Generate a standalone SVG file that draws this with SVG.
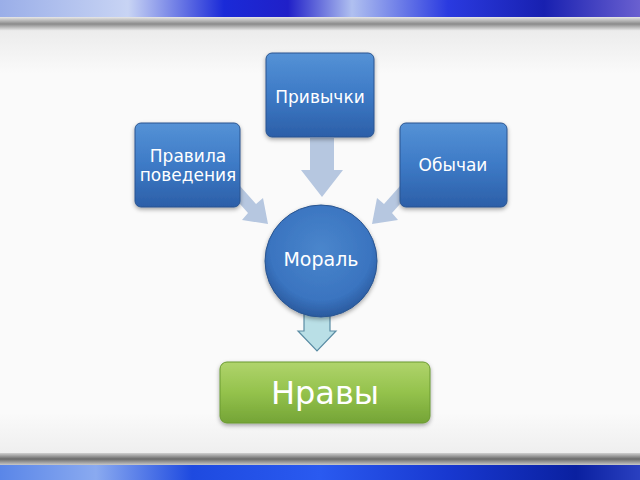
<svg xmlns="http://www.w3.org/2000/svg" width="640" height="480" viewBox="0 0 640 480">
<defs>
<linearGradient id="bgTop" x1="0" y1="0" x2="1" y2="0">
<stop offset="0" stop-color="#9aaee8"/><stop offset="0.2" stop-color="#c8d4f4"/><stop offset="0.35" stop-color="#1a2ad8"/><stop offset="0.45" stop-color="#2020c8"/><stop offset="0.55" stop-color="#b0c0f0"/><stop offset="0.7" stop-color="#2a3ae0"/><stop offset="0.85" stop-color="#1820b0"/><stop offset="1" stop-color="#6a60d0"/>
</linearGradient>
<linearGradient id="bgBot" x1="0" y1="0" x2="1" y2="0">
<stop offset="0" stop-color="#5a86e8"/><stop offset="0.15" stop-color="#8aaaf0"/><stop offset="0.3" stop-color="#1e4ae0"/><stop offset="0.5" stop-color="#2a5af0"/><stop offset="0.7" stop-color="#1838d0"/><stop offset="0.9" stop-color="#0a20a0"/><stop offset="1" stop-color="#2a40c0"/>
</linearGradient>
<linearGradient id="rimTop" x1="0" y1="0" x2="0" y2="1">
<stop offset="0" stop-color="#e8e8e8"/><stop offset="0.5" stop-color="#8a8a8a"/><stop offset="1" stop-color="#f0f0f0"/>
</linearGradient>
<linearGradient id="rimBot" x1="0" y1="0" x2="0" y2="1">
<stop offset="0" stop-color="#d0d0d0"/><stop offset="0.5" stop-color="#6a6a6a"/><stop offset="1" stop-color="#c8c8c8"/>
</linearGradient>
<linearGradient id="panel" x1="0" y1="0" x2="0" y2="1">
<stop offset="0" stop-color="#ececec"/><stop offset="0.1" stop-color="#fafafa"/><stop offset="0.9" stop-color="#fafafa"/><stop offset="1" stop-color="#eeeeee"/>
</linearGradient>
<linearGradient id="blue" x1="0" y1="0" x2="0" y2="1">
<stop offset="0" stop-color="#5592d6"/><stop offset="0.5" stop-color="#3d7ac6"/><stop offset="1" stop-color="#2c5fa8"/>
</linearGradient>
<radialGradient id="blueC" cx="0.5" cy="0.4" r="0.6">
<stop offset="0" stop-color="#4a86cc"/><stop offset="0.75" stop-color="#3a74c0"/><stop offset="1" stop-color="#2a5a9e"/>
</radialGradient>
<linearGradient id="green" x1="0" y1="0" x2="0" y2="1">
<stop offset="0" stop-color="#b0d46c"/><stop offset="0.5" stop-color="#94c24c"/><stop offset="1" stop-color="#74a436"/>
</linearGradient>
<filter id="sh" x="-20%" y="-20%" width="140%" height="150%">
<feDropShadow dx="0" dy="2" stdDeviation="2" flood-color="#000" flood-opacity="0.35"/>
</filter>
<style>
.box{fill:url(#blue);stroke:#2a5590;stroke-width:1;filter:url(#sh)}
.lbl{font-family:"DejaVu Sans","Noto Sans",sans-serif;fill:#fff;text-anchor:middle}
.arr{fill:#b6c7e0;stroke:none}
</style>
</defs>
<rect x="0" y="0" width="640" height="480" fill="#fafafa"/>
<rect x="0" y="0" width="640" height="17" fill="url(#bgTop)"/>
<rect x="0" y="17" width="640" height="14" fill="url(#rimTop)"/>
<rect x="0" y="31" width="640" height="424" fill="url(#panel)"/>
<rect x="0" y="453" width="640" height="12" fill="url(#rimBot)"/>
<rect x="0" y="465" width="640" height="15" fill="url(#bgBot)"/>

<g id="connectors">
<path class="arr" d="M310,138 H334 V170 H343 L322,197 L301,170 H310 Z"/>
<path class="arr" d="M240,186 L256,204 L263,198 L268,224 L242,220 L248,213 L232,195 Z"/>
<path class="arr" d="M400,186 L384,204 L377,198 L372,224 L398,220 L392,213 L408,195 Z"/>
<path d="M304,311 H330 V331 H336 L317,351 L298,331 H304 Z" fill="#b9dfe6" stroke="#5a8ca4" stroke-width="1.2"/>
</g>

<g id="node-privychki">
<rect class="box" x="266" y="53" width="108" height="84" rx="6"/>
<text class="lbl" x="320" y="103" font-size="17">Привычки</text>
</g>
<g id="node-pravila">
<rect class="box" x="135" y="123" width="105" height="84" rx="6"/>
<text class="lbl" x="188" y="162" font-size="17">Правила</text>
<text class="lbl" x="188" y="181" font-size="17">поведения</text>
</g>
<g id="node-obychai">
<rect class="box" x="400" y="123" width="107" height="84" rx="6"/>
<text class="lbl" x="453" y="171" font-size="17">Обычаи</text>
</g>
<g id="node-moral">
<circle cx="321" cy="261" r="56" fill="url(#blueC)" stroke="#2a5590" stroke-width="1" filter="url(#sh)"/>
<text class="lbl" x="321" y="266" font-size="19">Мораль</text>
</g>
<g id="node-nravy">
<rect x="220" y="362" width="210" height="61" rx="7" fill="url(#green)" stroke="#6a9a30" stroke-width="1" filter="url(#sh)"/>
<text class="lbl" x="325" y="404" font-size="32">Нравы</text>
</g>
</svg>
